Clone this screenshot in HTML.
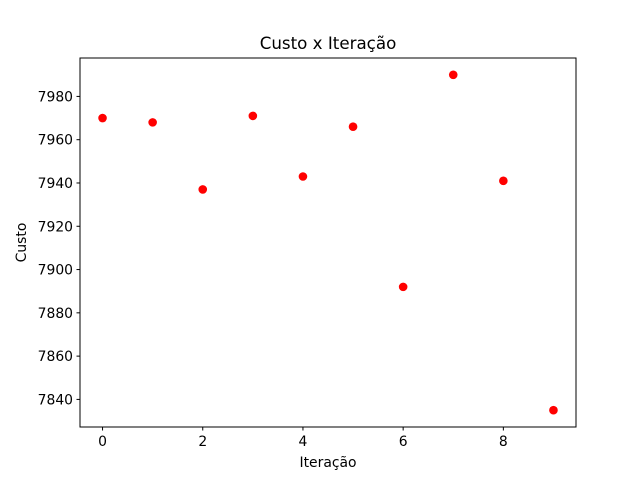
<!DOCTYPE html>
<html><head><meta charset="utf-8"><style>
body{margin:0;background:#fff;font-family:"Liberation Sans","DejaVu Sans",sans-serif;}
</style></head><body>
<svg id="chart" width="640" height="480" xmlns="http://www.w3.org/2000/svg" font-family="DejaVu Sans, Liberation Sans, sans-serif">
<rect width="640" height="480" fill="#fff"/>
<g id="plot"></g>
</svg>
<script>
const iterations=[0,1,2,3,4,5,6,7,8,9];
const costs=[7970,7968,7937,7971,7943,7966,7892,7990,7941,7835];
const xTicks=[0,2,4,6,8];
const yTicks=[7840,7860,7880,7900,7920,7940,7960,7980];
const L=80,R=576,T=58,B=427;
const xmin=Math.min(...iterations),xmax=Math.max(...iterations);
const ymin=Math.min(...costs),ymax=Math.max(...costs);
const xm=(xmax-xmin)*0.05,ym=(ymax-ymin)*0.05;
const x=v=>L+(v-(xmin-xm))/((xmax+xm)-(xmin-xm))*(R-L);
const y=v=>B-(v-(ymin-ym))/((ymax+ym)-(ymin-ym))*(B-T);
const NS="http://www.w3.org/2000/svg";
const g=document.getElementById('plot');
function mk(t,a,txt){const e=document.createElementNS(NS,t);for(const k in a)e.setAttribute(k,a[k]);if(txt!==undefined)e.textContent=txt;g.appendChild(e);return e;}
iterations.forEach((it,i)=>{
 const c=mk('circle',{cx:x(it),cy:y(costs[i]),r:4.3,fill:'#ff0000'});
 
 
});
const f=mk('rect',{x:L,y:T,width:R-L,height:B-T,fill:'none',stroke:'#000','stroke-width':1});


xTicks.forEach(t=>{
 const px=x(t);
 const l=mk('line',{x1:px,x2:px,y1:B,y2:B+3.5,stroke:'#000'});
 
 
 const tx=mk('text',{x:px,y:B+19,'font-size':13.9,'text-anchor':'middle'},t);
 
 
});
yTicks.forEach(t=>{
 const py=y(t);
 const l=mk('line',{x1:L-3.5,x2:L,y1:py,y2:py,stroke:'#000'});
 
 
 const tx=mk('text',{x:L-7,y:py+5,'font-size':13.9,'text-anchor':'end'},t);
 
 
});
const ti=mk('text',{x:(L+R)/2,y:49,'font-size':16.7,'text-anchor':'middle'},'Custo x Iteração');


const xl=mk('text',{x:(L+R)/2,y:467,'font-size':13.9,'text-anchor':'middle'},'Iteração');


const yl=mk('text',{x:26,y:(T+B)/2,'font-size':13.9,'text-anchor':'middle',transform:'rotate(-90 26 '+((T+B)/2)+')'},'Custo');


</script>
</body></html>
